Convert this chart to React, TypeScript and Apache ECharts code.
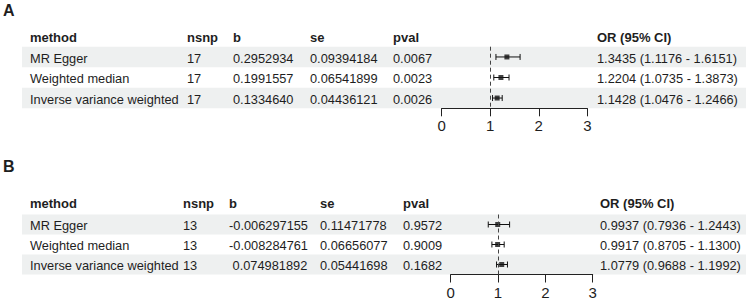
import React, { useEffect, useRef } from "react";
import * as echarts from "echarts";

// ---------- data ----------
const headers = ["method", "nsnp", "b", "se", "pval", "OR (95% CI)"];
const methods = ["MR Egger", "Weighted median", "Inverse variance weighted"];

const nsnpA = ["17", "17", "17"];
const bA = ["0.2952934", "0.1991557", "0.1334640"];
const seA = ["0.09394184", "0.06541899", "0.04436121"];
const pvalA = ["0.0067", "0.0023", "0.0026"];
const orA = [1.3435, 1.2204, 1.1428];
const lowA = [1.1176, 1.0735, 1.0476];
const highA = [1.6151, 1.3873, 1.2466];

const nsnpB = ["13", "13", "13"];
const bB = ["-0.006297155", "-0.008284761", " 0.074981892"];
const seB = ["0.11471778", "0.06656077", "0.05441698"];
const pvalB = ["0.9572", "0.9009", "0.1682"];
const orB = [0.9937, 0.9917, 1.0779];
const lowB = [0.7936, 0.8705, 0.9688];
const highB = [1.2443, 1.13, 1.1992];

const xTicks = [0, 1, 2, 3];
const panelLabels = ["A", "B"];

// ---------- layout ----------
const FONT = "'Liberation Sans', Arial, sans-serif";
const TEXT = "#1e1e1e";
const BAND = "#eef0f0";

const panels = [
  {
    label: panelLabels[0],
    labelY: 10,
    headerY: 37,
    top: 46.7,
    height: 61.6,
    cols: [30, 187, 233, 310, 393, 597],
    gridLeft: 441.7,
    gridWidth: 145.6,
    nsnp: nsnpA, b: bA, se: seA, pval: pvalA, or: orA, low: lowA, high: highA,
  },
  {
    label: panelLabels[1],
    labelY: 166,
    headerY: 203,
    top: 214.5,
    height: 60,
    cols: [30, 183, 229, 320, 403, 600],
    gridLeft: 450.7,
    gridWidth: 142,
    nsnp: nsnpB, b: bB, se: seB, pval: pvalB, or: orB, low: lowB, high: highB,
  },
];

const fmt = (v: number) => v.toFixed(4);

export default function App() {
  const ref = useRef<HTMLDivElement>(null);
  useEffect(() => {
    if (!ref.current) return;
    const chart = echarts.init(ref.current, null, { renderer: "svg" });

    const graphics: any[] = [];
    panels.forEach((p) => {
      const rowH = p.height / 3;
      graphics.push({
        type: "text",
        x: 3,
        y: p.labelY,
        style: {
          text: p.label,
          font: `bold 16px ${FONT}`,
          fill: TEXT,
          textVerticalAlign: "middle",
        },
      });
      // shaded bands rows 1 and 3
      [0, 2].forEach((r) => {
        graphics.push({
          type: "rect",
          z: -10,
          shape: { x: 22, y: p.top + r * rowH, width: 724, height: rowH },
          style: { fill: BAND },
        });
      });
      headers.forEach((h, i) => {
        graphics.push({
          type: "text",
          x: p.cols[i],
          y: p.headerY,
          style: {
            text: h,
            font: `bold 13px ${FONT}`,
            fill: TEXT,
            textVerticalAlign: "middle",
          },
        });
      });
      methods.forEach((m, r) => {
        const y = p.top + (r + 0.5) * rowH + 1.2;
        const cells = [
          m,
          p.nsnp[r],
          p.b[r],
          p.se[r],
          p.pval[r],
          `${fmt(p.or[r])} (${fmt(p.low[r])} - ${fmt(p.high[r])})`,
        ];
        cells.forEach((c, i) => {
          graphics.push({
            type: "text",
            x: p.cols[i],
            y,
            style: {
              text: c,
              font: `12.8px ${FONT}`,
              fill: TEXT,
              textVerticalAlign: "middle",
            },
          });
        });
      });
    });

    const grids = panels.map((p) => ({
      left: p.gridLeft,
      top: p.top,
      width: p.gridWidth,
      height: p.height,
    }));

    const xAxes = panels.map((p, i) => ({
      type: "value",
      gridIndex: i,
      min: xTicks[0],
      max: xTicks[xTicks.length - 1],
      interval: 1,
      splitLine: { show: false },
      axisLine: { show: true, lineStyle: { color: "#222", width: 1 } },
      axisTick: { show: true, length: 8, lineStyle: { color: "#222", width: 1 } },
      axisLabel: {
        margin: 10,
        color: TEXT,
        fontSize: 15,
        fontFamily: FONT,
      },
    }));

    const yAxes = panels.map((p, i) => ({
      type: "category",
      gridIndex: i,
      inverse: true,
      data: methods,
      show: false,
    }));

    const series: any[] = [];
    panels.forEach((p, i) => {
      series.push({
        type: "custom",
        xAxisIndex: i,
        yAxisIndex: i,
        silent: true,
        data: methods.map((_, r) => [p.low[r], p.high[r], r]),
        encode: { x: [0, 1], y: 2 },
        renderItem: (params: any, api: any) => {
          const a = api.coord([api.value(0), api.value(2)]);
          const b = api.coord([api.value(1), api.value(2)]);
          const cap = 3;
          const st = { stroke: "#111", lineWidth: 1 };
          return {
            type: "group",
            children: [
              { type: "line", shape: { x1: a[0], y1: a[1], x2: b[0], y2: b[1] }, style: st },
              { type: "line", shape: { x1: a[0], y1: a[1] - cap, x2: a[0], y2: a[1] + cap }, style: st },
              { type: "line", shape: { x1: b[0], y1: b[1] - cap, x2: b[0], y2: b[1] + cap }, style: st },
            ],
          };
        },
      });
      series.push({
        type: "scatter",
        xAxisIndex: i,
        yAxisIndex: i,
        silent: true,
        symbol: "rect",
        symbolSize: 5,
        itemStyle: { color: "#111" },
        data: methods.map((_, r) => [p.or[r], r]),
        markLine: {
          silent: true,
          symbol: "none",
          label: { show: false },
          lineStyle: { type: [4, 3], color: "#444", width: 1 },
          data: [{ xAxis: 1 }],
        },
      });
    });

    chart.setOption({
      animation: false,
      backgroundColor: "#ffffff",
      grid: grids,
      xAxis: xAxes,
      yAxis: yAxes,
      series,
      graphic: graphics,
    });

    return () => chart.dispose();
  }, []);

  return (
    <div
      ref={ref}
      style={{ position: "fixed", left: 0, top: 0, width: 750, height: 302 }}
    />
  );
}
